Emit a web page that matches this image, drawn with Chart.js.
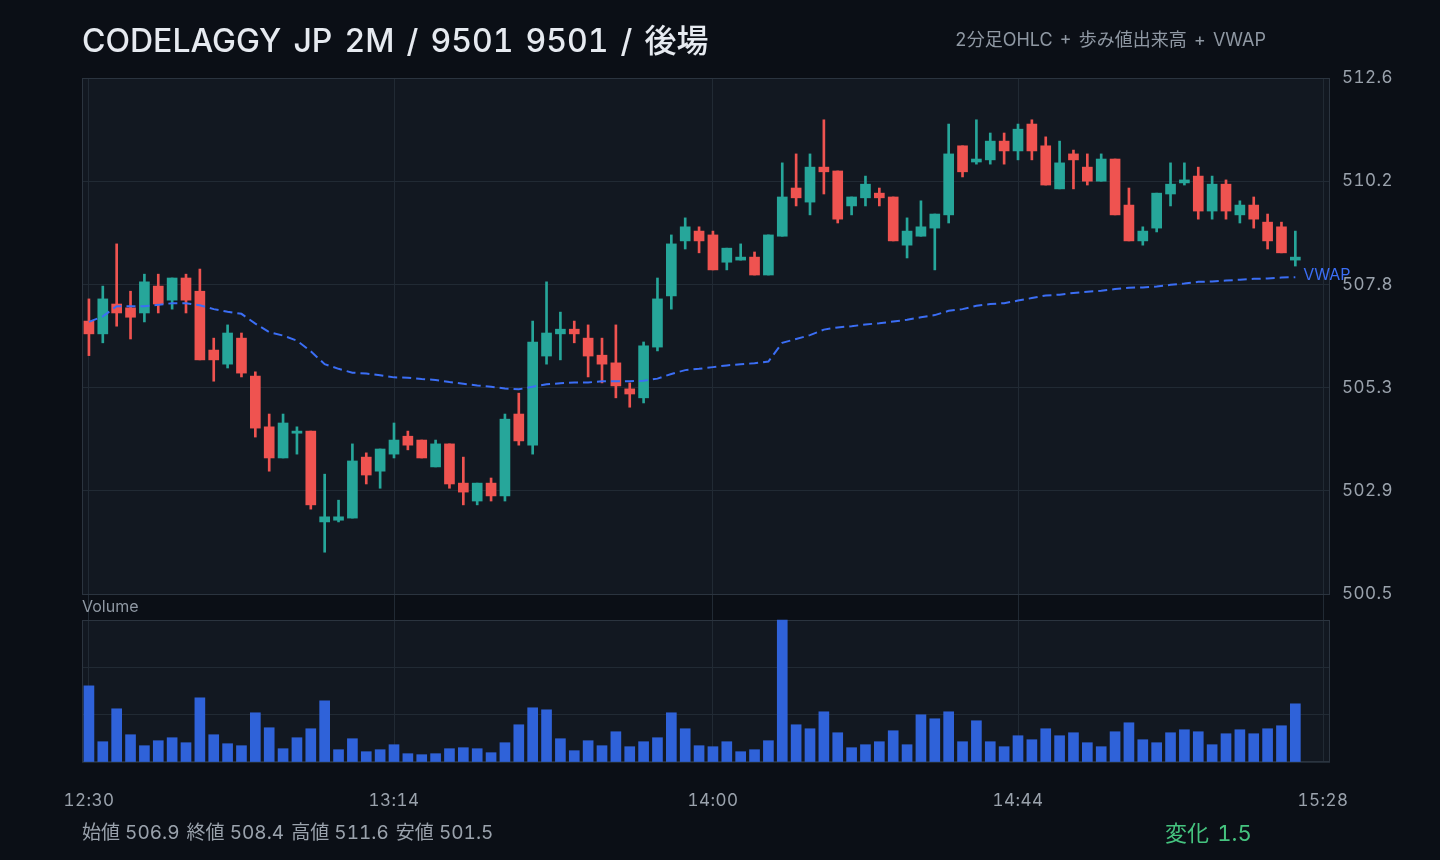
<!DOCTYPE html>
<html lang="ja">
<head>
<meta charset="utf-8">
<title>CODELAGGY JP 2M / 9501</title>
<script src="https://cdn.jsdelivr.net/npm/chart.js@4.4.1/dist/chart.umd.min.js"></script>
<style>
  html, body { margin: 0; padding: 0; background: #0b0f16; }
  body { width: 1440px; height: 860px; position: relative; overflow: hidden;
         font-family: Inter, "Noto Sans CJK JP", sans-serif;
         font-variant-numeric: tabular-nums; word-spacing: 2.4px; }
  #chart { position: absolute; left: 0; top: 0; }
  .title { position: absolute; left: 82px; top: 19px; line-height: 44px; font-size: 32px;
           font-weight: 500; color: #e6eaf0; white-space: nowrap; word-spacing: 3.5px; }
  .sub { position: absolute; left: 955px; top: 28px; line-height: 24px; font-size: 18px;
         color: #8f98a3; white-space: nowrap; }
  .vol-label { position: absolute; left: 82px; top: 596px; line-height: 20px; font-size: 16px;
               color: #8f98a3; }
  .stats { position: absolute; left: 82px; top: 820px; line-height: 26px; font-size: 19px;
           color: #9aa2ac; white-space: nowrap; word-spacing: 0; }
  .stats span { margin-right: 2px; }
  .change { position: absolute; left: 1165px; top: 818px; line-height: 30px; font-size: 22px;
            color: #45c37f; white-space: nowrap; }
</style>
</head>
<body>
<canvas id="chart" width="1440" height="860"></canvas>
<div class="title">CODELAGGY JP 2M / 9501 9501 / 後場</div>
<div class="sub">2分足OHLC + 歩み値出来高 + VWAP</div>
<div class="vol-label">Volume</div>
<div class="stats"><span>始値 506.9</span> <span>終値 508.4</span> <span>高値 511.6</span> <span>安値 501.5</span></div>
<div class="change">変化 1.5</div>

<script>
// 2分足 12:30 - 15:28
const times = []
for (let m = 12 * 60 + 30; m <= 15 * 60 + 28; m += 2) {
  times.push(Math.floor(m / 60) + ':' + String(m % 60).padStart(2, '0'))
}
const timeTicks = ['12:30', '13:14', '14:00', '14:44', '15:28']

const opens = [
  506.90, 506.60, 507.30, 507.21, 507.09, 507.72, 507.39, 507.91, 507.60, 506.22,
  505.89, 506.50, 505.61, 504.42, 503.69, 504.27, 504.32, 502.19, 502.23, 502.28,
  503.71, 503.38, 503.78, 504.20, 504.11, 503.48, 504.02, 503.10, 502.68, 503.10,
  502.80, 504.72, 503.99, 506.08, 506.60, 506.71, 506.50, 506.10, 505.92, 505.31,
  505.10, 506.29, 507.49, 508.78, 509.01, 508.92, 508.28, 508.33, 508.40, 507.98,
  508.89, 510.02, 509.69, 510.51, 510.42, 509.60, 509.79, 509.90, 509.81, 508.68,
  508.89, 509.08, 509.39, 511.01, 510.63, 510.68, 511.12, 510.89, 511.52, 511.01,
  510.00, 510.82, 510.51, 510.18, 510.70, 509.62, 508.78, 509.08, 509.88, 510.14,
  510.30, 509.48, 510.11, 509.39, 509.62, 509.22, 509.11, 508.33
]
const highs = [
  507.42, 507.72, 508.71, 507.60, 508.00, 508.00, 507.91, 508.00, 508.12, 506.50,
  506.81, 506.62, 505.71, 504.72, 504.72, 504.42, 504.32, 503.31, 502.70, 504.02,
  503.81, 503.90, 504.51, 504.32, 504.11, 504.11, 504.02, 503.71, 503.10, 503.22,
  504.72, 505.21, 506.90, 507.82, 507.11, 506.90, 506.81, 506.50, 506.81, 505.45,
  506.41, 507.91, 508.92, 509.32, 509.11, 509.01, 508.61, 508.71, 508.52, 508.92,
  510.61, 510.82, 510.82, 511.62, 510.42, 509.81, 510.30, 510.02, 509.81, 509.32,
  509.72, 509.41, 511.52, 511.01, 511.62, 511.31, 511.31, 511.52, 511.62, 511.22,
  511.12, 510.91, 510.82, 510.82, 510.70, 510.02, 509.11, 509.90, 510.61, 510.61,
  510.51, 510.30, 510.21, 509.72, 509.81, 509.41, 509.22, 509.01
]
const lows = [
  506.09, 506.39, 506.78, 506.48, 506.88, 507.09, 507.18, 507.09, 505.99, 505.49,
  505.80, 505.59, 504.18, 503.38, 503.69, 503.78, 502.49, 501.48, 502.19, 502.28,
  503.08, 502.98, 503.69, 503.88, 503.69, 503.48, 502.98, 502.59, 502.59, 502.68,
  502.68, 503.99, 503.78, 505.89, 505.99, 506.39, 505.59, 505.45, 505.10, 504.88,
  504.98, 506.20, 507.18, 508.59, 508.50, 508.10, 508.10, 508.33, 507.98, 507.98,
  508.89, 509.60, 509.39, 509.88, 509.20, 509.39, 509.60, 509.60, 508.78, 508.38,
  508.89, 508.10, 509.20, 510.28, 510.58, 510.58, 510.58, 510.68, 510.68, 510.09,
  510.00, 510.00, 510.09, 510.18, 509.39, 508.78, 508.68, 508.99, 509.60, 510.09,
  509.29, 509.29, 509.29, 509.20, 509.08, 508.59, 508.50, 508.19
]
const closes = [
  506.60, 507.42, 507.09, 506.99, 507.82, 507.30, 507.91, 507.39, 505.99, 505.99,
  506.62, 505.68, 504.39, 503.69, 504.51, 504.32, 502.59, 502.31, 502.31, 503.62,
  503.29, 503.90, 504.11, 503.99, 503.69, 504.02, 503.08, 502.89, 503.10, 502.80,
  504.60, 504.09, 506.41, 506.62, 506.71, 506.60, 506.08, 505.89, 505.38, 505.19,
  506.32, 507.42, 508.71, 509.11, 508.78, 508.10, 508.61, 508.40, 507.98, 508.92,
  509.81, 509.79, 510.51, 510.40, 509.29, 509.81, 510.11, 509.79, 508.78, 509.01,
  509.11, 509.41, 510.82, 510.40, 510.70, 511.12, 510.89, 511.40, 510.89, 510.09,
  510.61, 510.68, 510.18, 510.70, 509.39, 508.78, 509.01, 509.90, 510.11, 510.21,
  509.48, 510.11, 509.48, 509.62, 509.29, 508.78, 508.50, 508.40
]
const vwap = [
  506.88, 507.01, 507.25, 507.25, 507.25, 507.28, 507.32, 507.32, 507.27, 507.18,
  507.12, 507.07, 506.84, 506.64, 506.56, 506.44, 506.19, 505.89, 505.78, 505.69,
  505.67, 505.63, 505.58, 505.57, 505.54, 505.52, 505.47, 505.43, 505.39, 505.36,
  505.32, 505.30, 505.36, 505.42, 505.44, 505.46, 505.46, 505.49, 505.49, 505.49,
  505.50, 505.55, 505.66, 505.75, 505.78, 505.82, 505.86, 505.89, 505.91, 505.95,
  506.39, 506.48, 506.57, 506.70, 506.75, 506.78, 506.82, 506.85, 506.89, 506.93,
  506.99, 507.04, 507.14, 507.18, 507.26, 507.30, 507.32, 507.38, 507.44, 507.50,
  507.52, 507.56, 507.59, 507.61, 507.65, 507.68, 507.69, 507.71, 507.75, 507.78,
  507.82, 507.83, 507.85, 507.87, 507.89, 507.90, 507.92, 507.93
]
const volumes = [
  22900, 6100, 16000, 8200, 4900, 6400, 7300, 5800, 19300, 8200,
  5500, 4900, 14800, 10300, 4000, 7300, 10000, 18400, 3700, 7000,
  3100, 3700, 5200, 2500, 2200, 2500, 4000, 4300, 4000, 2800,
  5800, 11200, 16300, 15700, 7000, 3400, 6400, 4900, 9100, 4600,
  6100, 7300, 14800, 10000, 4900, 4600, 6100, 3100, 3700, 6400,
  42700, 11200, 10000, 15100, 8800, 4300, 5200, 6100, 9400, 5200,
  14200, 13000, 15100, 6100, 12400, 6100, 4600, 7900, 6700, 10000,
  7900, 8800, 5800, 4600, 9100, 11800, 6700, 5800, 8800, 9700,
  9100, 5200, 8500, 9700, 8500, 10000, 10900, 17500
]
const priceTicks = [500.5, 502.92, 505.34, 507.76, 510.18, 512.6]
const volTop = 42700
const volTicks = [0, volTop / 3, volTop * 2 / 3, volTop]

const UP = '#26a69a'
const DOWN = '#ef5350'
const VWAP_COLOR = '#3b6ef5'
const VOL_COLOR = '#2f62d9'
const GRID = '#212a34'
const BORDER = '#2b343f'
const PANEL_BG = '#121821'
const TXT = '#9aa2ac'
const FONT = 'Inter, "Noto Sans CJK JP", sans-serif'

const candleColors = opens.map((o, i) => closes[i] >= o ? UP : DOWN)

// pane backgrounds, borders and the VWAP tag
const panes = {
  id: 'panes',
  beforeDraw(chart) {
    const { ctx, chartArea: a, scales } = chart
    const vt = scales.yv.getPixelForValue(volTop)
    ctx.save()
    ctx.fillStyle = PANEL_BG
    ctx.fillRect(a.left, scales.y.top, a.right - a.left, scales.y.bottom - scales.y.top)
    ctx.fillRect(a.left, vt, a.right - a.left, scales.yv.bottom - vt)
    ctx.restore()
    // a bit wider digits for the axis labels
    ctx.letterSpacing = '0.45px'
  },
  beforeDatasetsDraw(chart) {
    const { ctx, chartArea: a, scales } = chart
    const vt = Math.round(scales.yv.getPixelForValue(volTop))
    ctx.save()
    ctx.strokeStyle = BORDER
    ctx.lineWidth = 1
    ctx.strokeRect(a.left + 0.5, scales.y.top + 0.5, a.right - a.left - 1, scales.y.bottom - scales.y.top)
    ctx.strokeRect(a.left + 0.5, vt + 0.5, a.right - a.left - 1, scales.yv.bottom - vt - 1)
    ctx.restore()
  },
  afterDatasetsDraw(chart) {
    const meta = chart.getDatasetMeta(2)
    const last = meta.data[meta.data.length - 1]
    const ctx = chart.ctx
    ctx.save()
    ctx.letterSpacing = '0px'
    ctx.fillStyle = VWAP_COLOR
    ctx.font = '16px ' + FONT
    ctx.textBaseline = 'middle'
    ctx.fillText('VWAP', last.x + 8, last.y - 2)
    ctx.restore()
  }
}

new Chart(document.getElementById('chart'), {
  type: 'bar',
  data: {
    labels: times,
    datasets: [
      { label: 'wick', data: lows.map((l, i) => [l, highs[i]]), backgroundColor: candleColors,
        barThickness: 2, grouped: false, yAxisID: 'y', order: 2 },
      { label: 'body', data: opens.map((o, i) => [o, closes[i]]), backgroundColor: candleColors,
        barThickness: 10, grouped: false, yAxisID: 'y', order: 1 },
      { label: 'VWAP', type: 'line', data: vwap, borderColor: VWAP_COLOR, borderWidth: 2,
        borderDash: [9, 5], pointRadius: 0, tension: 0, fill: false, yAxisID: 'y', order: 0 },
      { label: 'Volume', data: volumes, backgroundColor: VOL_COLOR,
        barThickness: 10, grouped: false, yAxisID: 'yv', order: 3 }
    ]
  },
  options: {
    responsive: false,
    animation: false,
    layout: { padding: { left: 82, top: 78, right: 0, bottom: 48 } },
    plugins: { legend: { display: false }, tooltip: { enabled: false } },
    scales: {
      x: {
        offset: true,
        grid: {
          offset: false, drawTicks: false,
          color: ctx => timeTicks.includes(times[ctx.index]) ? GRID : 'transparent'
        },
        border: { display: false },
        ticks: {
          autoSkip: false, maxRotation: 0, padding: 29, color: TXT,
          font: { family: FONT, size: 17 },
          callback: (v, i) => timeTicks.includes(times[i]) ? times[i] : ''
        },
        afterFit: s => { s.height = 50 }
      },
      y: {
        position: 'right', stack: 'panes', stackWeight: 516,
        min: 500.5, max: 512.6,
        afterBuildTicks: s => { s.ticks = priceTicks.map(v => ({ value: v })) },
        grid: { color: GRID, drawTicks: false },
        border: { display: false },
        ticks: { padding: 12, color: TXT, font: { family: FONT, size: 17 },
                 callback: v => v.toFixed(1) },
        afterFit: s => { s.width = 110 }
      },
      yv: {
        position: 'right', stack: 'panes', stackWeight: 168,
        min: 0, max: volTop * 168 / 142,
        afterBuildTicks: s => { s.ticks = volTicks.map(v => ({ value: v })) },
        grid: { color: GRID, drawTicks: false },
        border: { display: false },
        ticks: { display: false },
        afterFit: s => { s.width = 110 }
      }
    }
  },
  plugins: [panes]
})
</script>
</body>
</html>
